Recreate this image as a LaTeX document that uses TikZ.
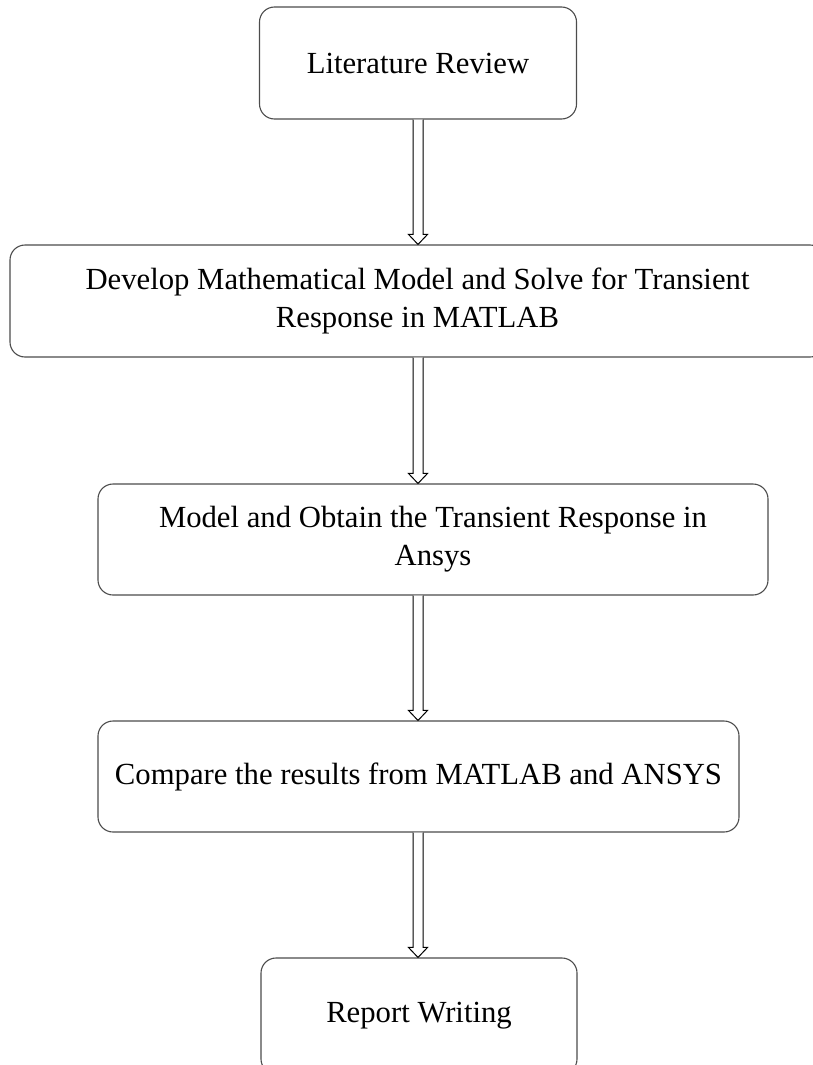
\documentclass[tikz,border=0pt]{standalone}
\usepackage{fontspec}
\setmainfont{Liberation Serif}
\usetikzlibrary{calc}

\tikzset{
  stepbox/.style={draw=black!70, line width=1.1pt, rounded corners=15pt, inner sep=0pt,
    align=center, font=\fontsize{30.7}{38}\selectfont},
  arrowline/.style={draw=black, line width=1pt, fill=white}
}
% hollow double-line arrow from box #1 down to box #2, on the axis
\newcommand{\hollowarrow}[2]{%
  \draw[arrowline] ($(#1.south -| axis)+(-5,0)$) -- ($(#2.north -| axis)+(-5,10)$)
    -- ($(#2.north -| axis)+(-9.5,10)$) -- (#2.north -| axis)
    -- ($(#2.north -| axis)+(9.5,10)$) -- ($(#2.north -| axis)+(5,10)$)
    -- ($(#1.south -| axis)+(5,0)$);}

\begin{document}
\begin{tikzpicture}[x=1pt,y=1pt]
\useasboundingbox (0,0) rectangle (813,-1065);
\coordinate (axis) at (418,0);
\node [stepbox, minimum width=317, minimum height=112] (lit) at (418,-63) {Literature Review};
\node [stepbox, minimum width=815, minimum height=112] (dev) at (417.5,-301) {Develop Mathematical Model and Solve for Transient\\Response in MATLAB};
\node [stepbox, minimum width=670, minimum height=111] (ans) at (433,-539.5) {Model and Obtain the Transient Response in\\Ansys};
\node [stepbox, minimum width=641, minimum height=111] (cmp) at (418.5,-776.5) {Compare the results from MATLAB and ANSYS};
\node [stepbox, minimum width=316, minimum height=116] (rep) at (419,-1016) {Report Writing};
\hollowarrow{lit}{dev}
\hollowarrow{dev}{ans}
\hollowarrow{ans}{cmp}
\hollowarrow{cmp}{rep}
\end{tikzpicture}
\end{document}
